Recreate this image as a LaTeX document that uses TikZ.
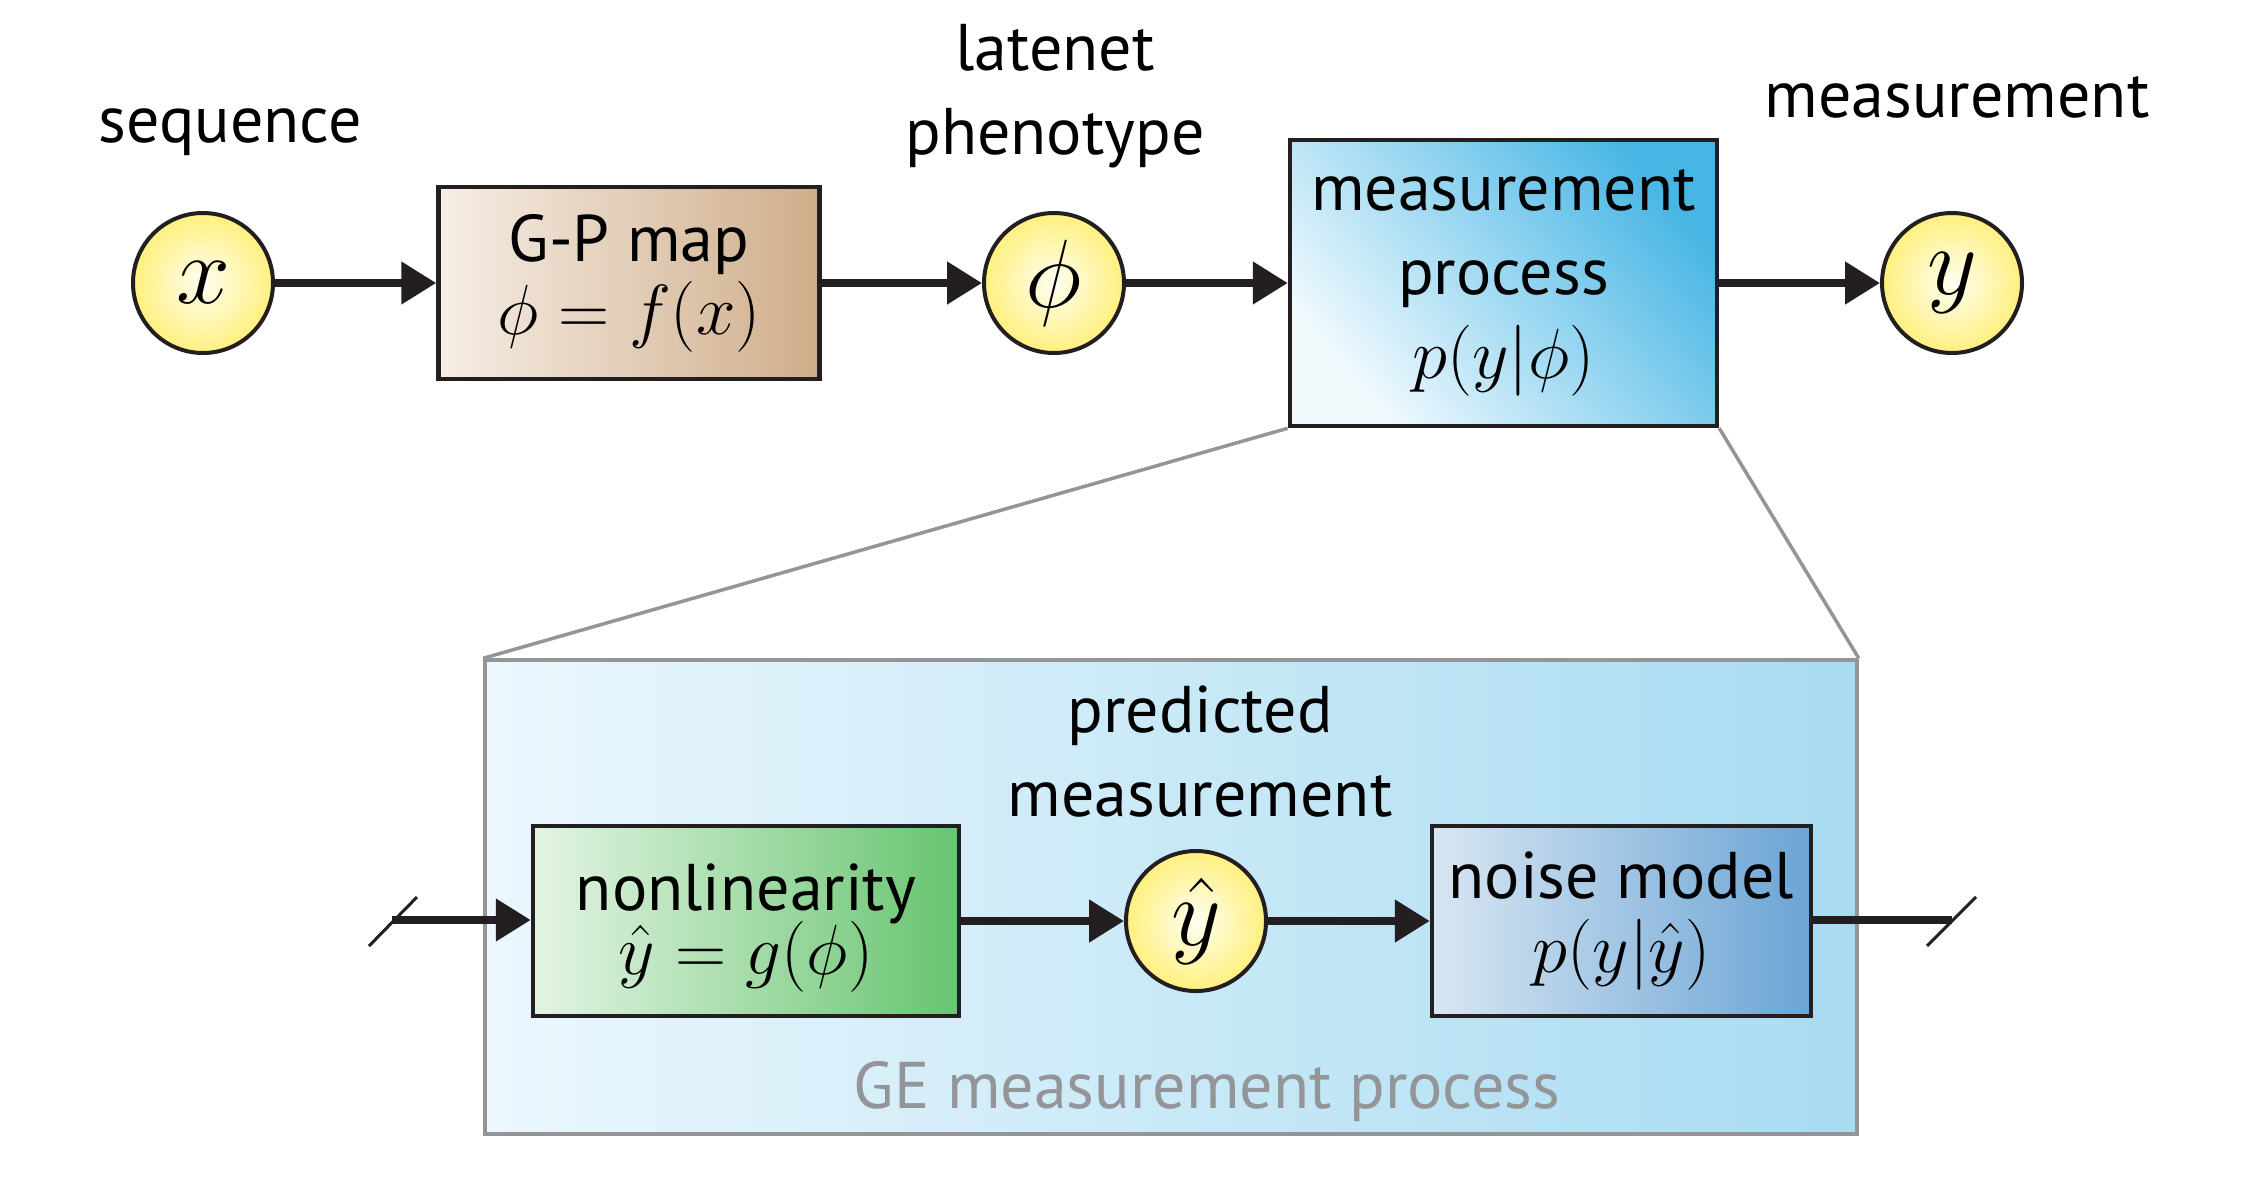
\RequirePackage{fix-cm}
\documentclass[tikz,border=0pt]{standalone}
\usepackage{fontspec}
\setmainfont{PT Sans}
\usetikzlibrary{arrows.meta}
\definecolor{dark}{HTML}{231F20}
\definecolor{grayline}{HTML}{939598}
\definecolor{varin}{HTML}{FFFEF2}
\definecolor{varout}{HTML}{FFF07E}
\definecolor{gpL}{HTML}{F6EEE6}
\definecolor{gpR}{HTML}{CFAD8A}
\definecolor{mpL}{HTML}{F2FAFE}
\definecolor{mpR}{HTML}{48B6E5}
\definecolor{geL}{HTML}{EBF7FD}
\definecolor{geR}{HTML}{A8DBF1}
\definecolor{nlL}{HTML}{E4F4E4}
\definecolor{nlR}{HTML}{67C470}
\definecolor{nmL}{HTML}{D8E6F2}
\definecolor{nmR}{HTML}{6BA4D5}
\newcommand{\bxmath}{\fontsize{71bp}{84bp}\selectfont}
\begin{document}
\begin{tikzpicture}[x=1bp,y=-1bp,
  conn/.style={line width=8bp, draw=dark, -{Triangle[length=35bp,width=41bp]}},
  plainline/.style={line width=8bp, draw=dark},
  slash/.style={line width=3bp, draw=dark},
  zoomline/.style={line width=3.5bp, draw=grayline},
  var/.style={circle, minimum size=140bp, inner sep=0pt, draw=dark, line width=4bp,
    inner color=varin, outer color=varout, font=\fontsize{97bp}{97bp}\selectfont},
  box/.style={rectangle, draw=dark, line width=4.5bp, inner sep=0pt, align=center,
    font=\fontsize{66bp}{84bp}\selectfont},
  lbl/.style={align=center, inner sep=0pt, font=\fontsize{66bp}{84bp}\selectfont},
]
\useasboundingbox (0,0) rectangle (2250,1181);
\fill[white] (0,0) rectangle (2250,1181);

% top row
\node[var] (x) at (203,283) {$x$};
\node[box, minimum width=381bp, minimum height=192bp, left color=gpL, right color=gpR]
  (gp) at (629,283) {G-P map\\[-11bp]{\bxmath$\phi = f(x)$}};
\node[var] (phi) at (1054,283) {$\phi$};
\node[box, minimum width=427bp, minimum height=286bp, bottom color=mpL, top color=mpR,
  shading angle=-50] (mp) at (1503.5,283) {measurement\\process\\{\bxmath$p(y|\phi)$}};
\node[var] (y) at (1952,283) {$y$};

\node[lbl, anchor=base] (lseq) at (230,142) {sequence};
\node[lbl] (lphen) at (1055,96) {latenet\\phenotype};
\node[lbl, anchor=base] (lmeas) at (1957,117) {measurement};

\draw[conn] (x) -- (gp);
\draw[conn] (gp) -- (phi);
\draw[conn] (phi) -- (mp);
\draw[conn] (mp) -- (y);

% zoom box
\node[rectangle, draw=grayline, line width=3.5bp, minimum width=1372bp, minimum height=474bp,
  left color=geL, right color=geR, inner sep=0pt] (ge) at (1171,897) {};
\draw[zoomline] (mp.south west) -- (ge.north west);
\draw[zoomline] (mp.south east) -- (ge.north east);

\node[lbl] (lpred) at (1200,752) {predicted\\measurement};
\node[lbl, anchor=base, text=grayline] (lge) at (1207,1108) {GE measurement process};

\node[box, minimum width=426bp, minimum height=190bp, left color=nlL, right color=nlR]
  (nl) at (746,921) {\rule{0pt}{60bp}nonlinearity\\[-20bp]{\bxmath$\hat{y} = g(\phi)$}};
\node[var] (yhat) at (1196,921) {$\hat{y}$};
\node[box, minimum width=379bp, minimum height=190bp, left color=nmL, right color=nmR]
  (nm) at (1621.5,921) {noise model\\[-10bp]{\bxmath$p(y|\hat{y})$}};

\coordinate (inL) at (392,920);
\coordinate (outR) at (1952,920);
\coordinate (s1a) at (369,946);
\coordinate (s1b) at (417,897);
\coordinate (s2a) at (1927,946);
\coordinate (s2b) at (1976,897);

\draw[conn] (inL) -- (nl.west |- inL);
\draw[conn] (nl) -- (yhat);
\draw[conn] (yhat) -- (nm);
\draw[plainline] (nm.east |- outR) -- (outR);
\draw[slash] (s1a) -- (s1b);
\draw[slash] (s2a) -- (s2b);
\end{tikzpicture}
\end{document}
